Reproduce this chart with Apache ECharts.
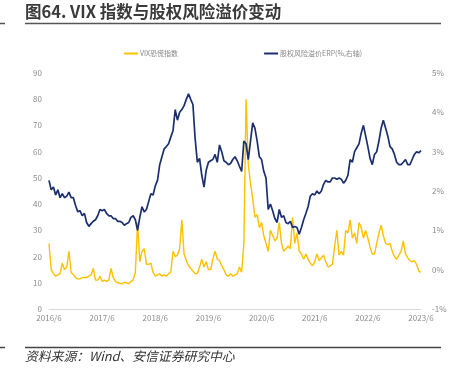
<!DOCTYPE html>
<html>
<head>
<meta charset="utf-8">
<script src="https://cdn.jsdelivr.net/npm/echarts@6/dist/echarts.min.js"></script>
<style>
	html,body{margin:0;padding:0;background:#fff;}
	#main{width:455px;height:376px;}
</style>
</head>
<body>
<div id="main"></div>
<script>
	// half-month points, 2016/6 - 2023/6
	var dates = [];
	for (var y = 2016; y <= 2023; y++) {
		for (var m = 1; m <= 12; m++) {
			if ((y === 2016 && m < 6) || (y === 2023 && m > 6)) continue;
			dates.push(y + "/" + m + "/1");
			if (!(y === 2023 && m === 6)) dates.push(y + "/" + m + "/16");
		}
	}
	var tickMonths = ["2016/6", "2017/6", "2018/6", "2019/6", "2020/6", "2021/6", "2022/6", "2023/6"];

	var vixData = [
		25, 15, 13.5, 12.5, 13, 13.5, 17.5, 15, 16, 22, 14, 13,
		12, 11.5, 11.5, 12, 12, 12, 12.5, 13, 15.5, 11, 11, 12.5,
		10.5, 11, 10.5, 11, 15.5, 12, 10.5, 10, 9.8, 9.6, 10.2, 10,
		9.6, 10.5, 11, 14, 33, 18, 22, 23, 17, 17, 17.5, 14,
		12.5, 13, 13.5, 12.5, 13, 12.5, 13.5, 14, 22, 20, 20.5, 23,
		34, 21, 18.5, 16.5, 15.5, 14.5, 13.5, 13.5, 16, 19, 16, 18,
		15, 15, 19, 22, 19, 18.5, 16.5, 15, 13, 12.5, 13.5, 12.5,
		13, 13.5, 16, 14, 25, 80, 55, 48, 42, 35, 36, 31,
		33, 28, 25, 22, 30, 28, 26, 27, 33, 25, 22, 23,
		24, 23, 35, 25, 29, 22, 21, 19, 21, 19, 17.5, 16.5,
		18, 21, 18.5, 19.5, 20.5, 18, 16, 16.5, 17, 24, 30, 20.5,
		22, 20.5, 30, 29, 34, 27, 29, 25, 33, 31, 27, 30,
		27, 23.5, 21, 21, 25, 29, 32, 28, 25, 24.5, 25, 22,
		20, 19, 20.5, 22, 26, 21, 19.5, 18.5, 18, 18.5, 17, 14.5,
		14
	];
	var erpData = [
		2.27, 2.03, 2.10, 1.90, 2.03, 1.83, 1.93, 1.83, 1.87, 1.97, 1.83, 1.83,
		1.63, 1.47, 1.50, 1.37, 1.43, 1.20, 1.10, 1.17, 1.23, 1.27, 1.37, 1.53,
		1.50, 1.53, 1.43, 1.37, 1.37, 1.30, 1.30, 1.23, 1.23, 1.20, 1.13, 1.17,
		1.20, 1.33, 1.37, 1.27, 1.00, 1.33, 1.60, 1.47, 1.53, 1.73, 1.93, 1.90,
		2.13, 2.27, 2.67, 2.87, 3.07, 3.13, 3.20, 3.37, 3.53, 4.07, 3.80, 4.00,
		4.07, 4.17, 4.33, 4.47, 4.33, 4.20, 3.33, 2.73, 2.83, 2.40, 2.10, 2.53,
		2.73, 2.77, 2.80, 2.93, 2.73, 3.17, 3.00, 2.77, 2.73, 2.67, 2.70, 2.80,
		2.87, 2.77, 2.63, 2.50, 3.27, 3.20, 2.80, 3.27, 3.73, 3.60, 3.27, 2.87,
		2.80, 2.50, 2.33, 1.53, 1.67, 1.50, 1.30, 1.20, 1.53, 1.33, 1.37, 1.20,
		1.17, 1.23, 1.07, 1.10, 1.07, 0.90, 1.07, 1.27, 1.43, 1.60, 1.87, 1.93,
		1.90, 2.00, 1.93, 2.00, 2.17, 2.27, 2.23, 2.23, 2.33, 2.33, 2.30, 2.33,
		2.30, 2.20, 2.27, 2.40, 2.80, 2.73, 3.00, 3.10, 3.20, 3.47, 3.67, 3.40,
		3.13, 2.83, 2.67, 2.93, 3.00, 3.27, 3.60, 3.80, 3.60, 3.40, 3.13, 3.07,
		2.93, 2.73, 2.67, 2.67, 2.73, 2.80, 2.67, 2.67, 2.80, 2.93, 3.00, 2.97,
		3.03
	];

	var axisLabelColor = "#8c8c8c";
	var axisFont = 8;
	var myChart = echarts.init(document.getElementById("main"));
	var option = {
		animation: false,
		textStyle: {fontFamily: "'Noto Sans CJK SC', 'Noto Sans', sans-serif"},
		graphic: [
			{type: 'text', left: 25, top: 3, style: {text: '图64. VIX 指数与股权风险溢价变动', fontSize: 16.5, fontWeight: 'bold', fill: '#3a3a3a', fontFamily: "'Noto Sans CJK SC', sans-serif"}},
			{type: 'line', shape: {x1: 25, y1: 23.5, x2: 441, y2: 23.5}, style: {stroke: '#555', lineWidth: 1.5}},
			{type: 'line', shape: {x1: 0, y1: 23.5, x2: 5, y2: 23.5}, style: {stroke: '#555', lineWidth: 1.5}},
			{type: 'line', shape: {x1: 25, y1: 347.5, x2: 441, y2: 347.5}, style: {stroke: '#444', lineWidth: 1.5}},
			{type: 'line', shape: {x1: 0, y1: 347.5, x2: 5, y2: 347.5}, style: {stroke: '#444', lineWidth: 1.5}},
			{type: 'text', left: 25, top: 350, style: {text: '资料来源：Wind、安信证券研究中心', fontSize: 12.8, fontStyle: 'italic', fill: '#333', fontFamily: "'Noto Sans CJK SC', sans-serif"}}
		],
		legend: {
			top: 45,
			left: 119,
			itemGap: 86,
			itemWidth: 14,
			itemHeight: 2,
			icon: 'rect',
			textStyle: {fontSize: 7, color: '#888', padding: [0, 0, 0, -3]},
			data: ['VIX恐慌指数', '股权风险溢价ERP(%,右轴)']
		},
		grid: {left: 49, right: 34, top: 73, bottom: 67, containLabel: false},
		xAxis: {
			type: 'category',
			data: dates,
			boundaryGap: false,
			axisLine: {lineStyle: {color: '#d9d9d9'}},
			axisTick: {show: false},
			axisLabel: {
				color: axisLabelColor,
				fontSize: axisFont,
				margin: 5,
				interval: function (idx) { return idx % 24 === 0; },
				formatter: function (v, idx) { return tickMonths[idx / 24] || ''; }
			},
			splitLine: {show: false}
		},
		yAxis: [
			{
				type: 'value', min: 0, max: 90, interval: 10,
				axisLine: {show: false}, axisTick: {show: false},
				splitLine: {show: false},
				axisLabel: {color: axisLabelColor, fontSize: axisFont, margin: 7}
			},
			{
				type: 'value', min: -1, max: 5, interval: 1,
				axisLine: {show: false}, axisTick: {show: false},
				splitLine: {show: false},
				axisLabel: {color: axisLabelColor, fontSize: axisFont, margin: 11, formatter: '{value}%'}
			}
		],
		series: [
			{
				name: 'VIX恐慌指数', type: 'line', yAxisIndex: 0,
				data: vixData, symbol: 'none',
				itemStyle: {color: '#FFC000'},
				lineStyle: {color: '#FFC000', width: 1.4}
			},
			{
				name: '股权风险溢价ERP(%,右轴)', type: 'line', yAxisIndex: 1,
				data: erpData, symbol: 'none',
				itemStyle: {color: '#1B2F6E'},
				lineStyle: {color: '#1B2F6E', width: 1.7}
			}
		]
	};
	myChart.setOption(option);
</script>
</body>
</html>
